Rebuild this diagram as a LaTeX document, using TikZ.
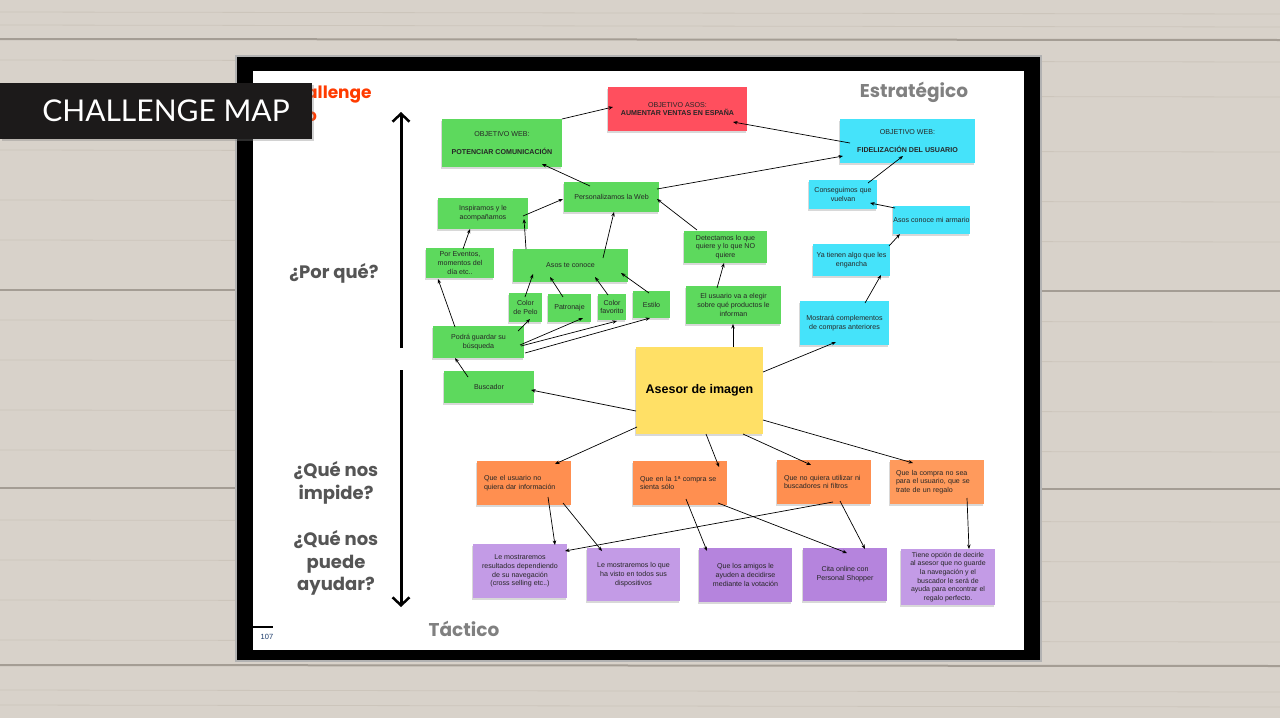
\documentclass[tikz,border=0pt]{standalone}
\usepackage{fontspec}
\setmainfont{Liberation Sans}
\newfontfamily\headfont{Lato}
\newfontfamily\popfont{Poppins}
\usetikzlibrary{arrows.meta,calc,shadows}
\definecolor{woodbg}{HTML}{D8D2CA}
\definecolor{woodline}{HTML}{A49D94}
\definecolor{woodgrain}{HTML}{CCC5BB}
\definecolor{ngreen}{HTML}{5DD95D}
\definecolor{ncyan}{HTML}{45E3FA}
\definecolor{nred}{HTML}{FF4F5E}
\definecolor{norange}{HTML}{FF8F50}
\definecolor{norange2}{HTML}{FF9A5C}
\definecolor{npurple}{HTML}{C39BE6}
\definecolor{npurple2}{HTML}{B584DD}
\definecolor{nyellow}{HTML}{FFE066}
\definecolor{headbg}{HTML}{1C1A1A}
\definecolor{redtitle}{HTML}{FF3B00}
\definecolor{greytitle}{HTML}{808080}
\definecolor{greylabel}{HTML}{555555}
\definecolor{pagenum}{HTML}{1A3A6A}
\newcommand\nf{\fontsize{7.1}{8.7}\selectfont}
\begin{document}
\begin{tikzpicture}[x=1pt,y=-1pt,
  note/.style={inner sep=0pt, align=center, font=\nf, text=black!85,
    drop shadow={shadow xshift=-1pt, shadow yshift=-1.5pt, opacity=0.3}},
  gnote/.style={note, fill=ngreen},
  cnote/.style={note, fill=ncyan},
  rnote/.style={note, fill=nred},
  onote/.style={note, fill=norange},
  pnote/.style={note, fill=npurple},
  ppnote/.style={note, fill=npurple2},
  ynote/.style={note, fill=nyellow},
  conn/.style={-{Stealth[length=4.5pt,width=3.5pt]}, line width=0.7pt, black},
  sidelabel/.style={font=\popfont\bfseries\fontsize{18}{22.5}\selectfont, text=greylabel, align=center},
  bigarrow/.style={line width=3pt, black}
]
\useasboundingbox (0,0) rectangle (1280,718);
% wood background
\fill[woodbg] (0,0) rectangle (1280,718);
\foreach \yy in {12,25,60,95,150,200,240,320,360,410,450,520,560,600,640,690,705}
  \draw[woodgrain, line width=0.8pt] (0,\yy) -- (1280,\yy+2);
\draw[woodline, line width=2pt] (0,39) -- (1280,40);
\draw[woodline, line width=2pt] (0,290) -- (240,290);
\draw[woodline, line width=2pt] (1040,291) -- (1280,291);
\draw[woodline, line width=2pt] (0,488) -- (240,488);
\draw[woodline, line width=2pt] (1040,489) -- (1280,489);
\draw[woodline, line width=2pt] (0,665) -- (1280,666);
% frame
\fill[gray!60] (235,55) rectangle (1042,662);
\fill[black] (237,57) rectangle (1040,660);
\fill[white] (253,71) rectangle (1024,650);
% titles
\node[font=\popfont\bfseries\fontsize{17}{20}\selectfont, text=redtitle, anchor=west, inner sep=0pt] (t1) at (306,95) {allenge};
\node[font=\popfont\bfseries\fontsize{17}{20}\selectfont, text=redtitle, anchor=west, inner sep=0pt] (t2) at (306,117) {o};
\node[font=\popfont\bfseries\fontsize{18.5}{20}\selectfont, text=greytitle, inner sep=0pt] (estr) at (914,92) {Estratégico};
\node[font=\popfont\bfseries\fontsize{18.5}{20}\selectfont, text=greytitle, inner sep=0pt] (tact) at (464,629) {Táctico};
% header
\fill[headbg, drop shadow={shadow xshift=2pt, shadow yshift=-2pt, opacity=0.35}] (0,83) rectangle (312,139);
\node[font=\headfont\fontsize{30}{32}\selectfont, text=white, inner sep=0pt] (head) at (166,111) {CHALLENGE MAP};
% page number
\draw[black, line width=1.5pt] (253,627) -- (273,627);
\node[font=\fontsize{7.5}{9}\selectfont, text=pagenum, inner sep=0pt] (pnum) at (267,637) {107};
% side labels
\node[sidelabel] (por) at (334,273) {¿Por qué?};
\node[sidelabel] (impide) at (336,483) {¿Qué nos\\impide?};
\node[sidelabel] (ayudar) at (336,563) {¿Qué nos\\puede\\ayudar?};
\coordinate (vtop) at (401,112);
\coordinate (vmid1) at (401,348);
\coordinate (vmid2) at (401,370);
\coordinate (vbot) at (401,607);
\draw[bigarrow, -{Straight Barb[length=8pt,width=17pt,line width=2.5pt]}] (vmid1) -- (vtop);
\draw[bigarrow, -{Straight Barb[length=8pt,width=17pt,line width=2.5pt]}] (vmid2) -- (vbot);

% notes
\node[rnote, minimum width=139, minimum height=44] (red) at (677.5,109) {OBJETIVO ASOS:\\\textbf{AUMENTAR VENTAS EN ESPAÑA}};
\node[gnote, minimum width=120, minimum height=48] (pot) at (502,143) {OBJETIVO WEB:\\[9pt]\textbf{POTENCIAR COMUNICACIÓN}};
\node[cnote, minimum width=135, minimum height=44] (fidel) at (907.5,141) {OBJETIVO WEB:\\[9pt]\textbf{FIDELIZACIÓN DEL USUARIO}};
\node[gnote, minimum width=95, minimum height=30] (pers) at (611.5,197) {Personalizamos la Web};
\node[gnote, minimum width=90, minimum height=31] (insp) at (483,213.5) {Inspiramos y le\\acompañamos};
\node[gnote, minimum width=68, minimum height=30] (evt) at (460,263) {Por Eventos,\\momentos del\\día etc..};
\node[gnote, minimum width=115, minimum height=33] (conoce) at (570.5,265.5) {Asos te conoce};
\node[gnote, minimum width=33, minimum height=29] (pelo) at (525.5,307.5) {Color\\de Pelo};
\node[gnote, minimum width=43, minimum height=28] (patr) at (569.5,308) {Patronaje};
\node[gnote, minimum width=28, minimum height=26] (fav) at (612,307) {Color\\favorito};
\node[gnote, minimum width=37, minimum height=27] (estilo) at (651.5,304.5) {Estilo};
\node[gnote, minimum width=91, minimum height=32] (podra) at (478.5,342) {Podrá guardar su\\búsqueda};
\node[gnote, minimum width=90, minimum height=32] (busc) at (489,387) {Buscador};
\node[ynote, minimum width=127, minimum height=87, font=\bfseries\fontsize{12.5}{14}\selectfont, text=black] (asesor) at (699.5,390.5) {Asesor de imagen};
\node[gnote, minimum width=83, minimum height=32] (detect) at (725.5,247) {Detectamos lo que\\quiere y lo que NO\\quiere};
\node[gnote, minimum width=95, minimum height=38] (elige) at (733.5,305) {El usuario va a elegir\\sobre qué productos le\\informan};
\node[cnote, minimum width=68, minimum height=29] (consig) at (843,194.5) {Conseguimos que\\vuelvan};
\node[cnote, minimum width=77, minimum height=28] (armario) at (931.5,220) {Asos conoce mi armario};
\node[cnote, minimum width=77, minimum height=32] (engancha) at (851.5,260) {Ya tienen algo que les\\engancha};
\node[cnote, minimum width=89, minimum height=44] (mostrara) at (844.5,323) {Mostrará complementos\\de compras anteriores};
\node[onote, minimum width=94, minimum height=44, text width=80, align=left] (o1) at (524,483) {Que el usuario no\\quiera dar información};
\node[onote, minimum width=94, minimum height=44, text width=80, align=left] (o2) at (680,483) {Que en la 1ª compra se\\sienta sólo};
\node[onote, minimum width=94, minimum height=44, text width=80, align=left] (o3) at (824,482) {Que no quiera utilizar ni\\buscadores ni filtros};
\node[onote, fill=norange2, minimum width=94, minimum height=44, text width=82, align=left] (o4) at (937,482) {Que la compra no sea\\para el usuario, que se\\trate de un regalo};
\node[pnote, minimum width=94, minimum height=54] (p1) at (520,571) {Le mostraremos\\resultados dependiendo\\de su navegación\\(cross selling etc..)};
\node[pnote, minimum width=93, minimum height=53] (p2) at (633.5,574.5) {Le mostraremos lo que\\ha visto en todos sus\\dispositivos};
\node[ppnote, minimum width=93, minimum height=54] (p3) at (745.5,575) {Que los amigos le\\ayuden a decidirse\\mediante la votación};
\node[ppnote, minimum width=84, minimum height=53] (p4) at (845,574.5) {Cita online con\\Personal Shopper};
\node[pnote, minimum width=94, minimum height=56, font=\fontsize{7}{8.6}\selectfont] (p5) at (948,577) {Tiene opción de decirle\\al asesor que no guarde\\la navegación y el\\buscador le será de\\ayuda para encontrar el\\regalo perfecto.};

% connectors
\draw[conn] ($(pot)+(60,-24)$) -- ($(red)+(-64.5,-2)$);
\draw[conn] ($(fidel)+(-57.5,2)$) -- ($(red)+(55.5,13)$);
\draw[conn] ($(pers)+(-21.5,-11)$) -- ($(pot)+(40,21)$);
\draw[conn] ($(pers)+(45.5,-8)$) -- ($(fidel)+(-64.5,15)$);
\draw[conn] ($(insp)+(40,2.5)$) -- ($(pers)+(-48.5,2)$);
\draw[conn] ($(conoce)+(-44.5,-16.5)$) -- ($(insp)+(41,5.5)$);
\draw[conn] ($(evt)+(3,-14)$) -- ($(insp)+(-13,15.5)$);
\draw[conn] ($(conoce)+(32.5,-7.5)$) -- ($(pers)+(2.5,15)$);
\draw[conn] ($(detect)+(-28.5,-17)$) -- ($(pers)+(45.5,2)$);
\draw[conn] ($(elige)+(-16.5,-17)$) -- ($(detect)+(-1.5,16)$);
\draw[conn] ($(asesor)+(33.5,-43.5)$) -- ($(elige)+(-0.5,19)$);
\draw[conn] ($(asesor)+(63.5,-18.5)$) -- ($(mostrara)+(-8.5,19)$);
\draw[conn] ($(mostrara)+(20.5,-20)$) -- ($(engancha)+(29.5,15)$);
\draw[conn] ($(engancha)+(37.5,-14)$) -- ($(armario)+(-31.5,14)$);
\draw[conn] ($(armario)+(-36.5,-12)$) -- ($(consig)+(27,8.5)$);
\draw[conn] ($(consig)+(25,-11.5)$) -- ($(fidel)+(-4.5,15)$);
\draw[conn] ($(pelo)+(-0.5,-10.5)$) -- ($(conoce)+(-37.5,8.5)$);
\draw[conn] ($(patr)+(-6.5,-11)$) -- ($(conoce)+(-20.5,11.5)$);
\draw[conn] ($(fav)+(-4,-12)$) -- ($(conoce)+(24.5,11.5)$);
\draw[conn] ($(estilo)+(-2.5,-11.5)$) -- ($(conoce)+(50.5,7.5)$);
\draw[conn] ($(podra)+(-23.5,-15)$) -- ($(evt)+(-22,16)$);
\draw[conn] ($(podra)+(39.5,-11)$) -- ($(pelo)+(4.5,11.5)$);
\draw[conn] ($(podra)+(41.5,3)$) -- ($(patr)+(13.5,10)$);
\draw[conn] ($(podra)+(42.5,4)$) -- ($(fav)+(5,14)$);
\draw[conn] ($(podra)+(46.5,11)$) -- ($(estilo)+(-1.5,13.5)$);
\draw[conn] ($(busc)+(-21,-10)$) -- ($(podra)+(-23.5,16)$);
\draw[conn] ($(asesor)+(-63.5,20.5)$) -- ($(busc)+(42,3)$);
\draw[conn] ($(asesor)+(-62.5,36.5)$) -- ($(o1)+(31,-19)$);
\draw[conn] ($(asesor)+(6.5,43.5)$) -- ($(o2)+(39,-16)$);
\draw[conn] ($(asesor)+(43.5,43.5)$) -- ($(o3)+(-13,-17)$);
\draw[conn] ($(asesor)+(63.5,29.5)$) -- ($(o4)+(-24,-19)$);
\draw[conn] ($(o1)+(24,14)$) -- ($(p1)+(35,-26)$);
\draw[conn] ($(o1)+(39,20)$) -- ($(p2)+(-31.5,-23.5)$);
\draw[conn] ($(o3)+(9,20)$) -- ($(p1)+(45,-20)$);
\draw[conn] ($(o2)+(6,16)$) -- ($(p3)+(-38.5,-24)$);
\draw[conn] ($(o2)+(38,20)$) -- ($(p4)+(2,-21.5)$);
\draw[conn] ($(o3)+(16,19)$) -- ($(p4)+(20,-25.5)$);
\draw[conn] ($(o4)+(30,16)$) -- ($(p5)+(21,-28)$);
\end{tikzpicture}
\end{document}
